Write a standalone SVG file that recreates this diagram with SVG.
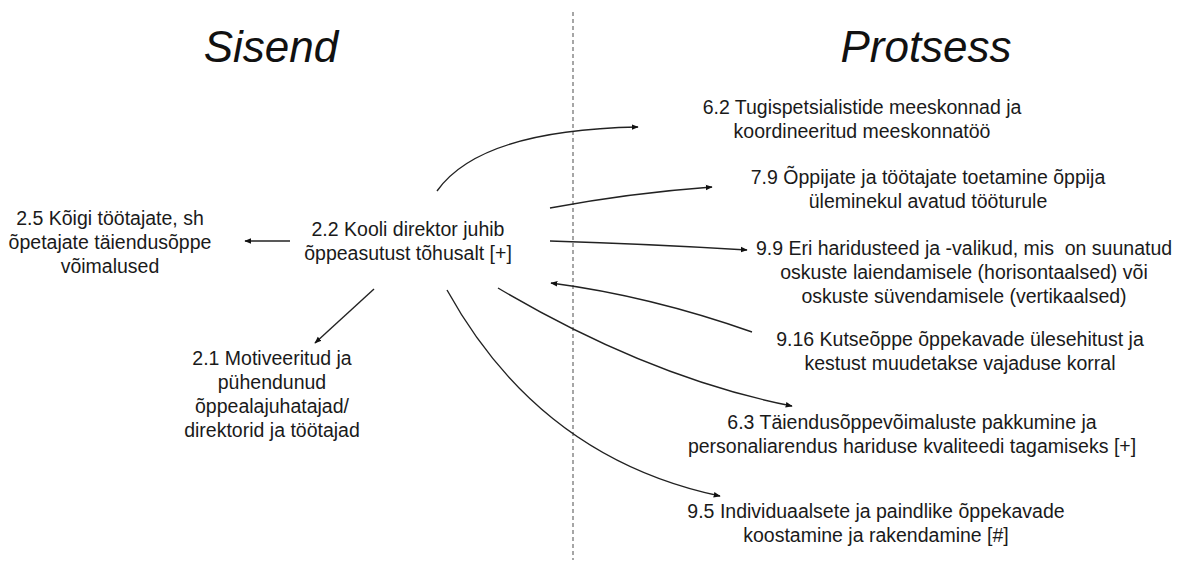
<svg xmlns="http://www.w3.org/2000/svg" width="1193" height="568" viewBox="0 0 1193 568">
  <style>
    .title { font-family: "Liberation Sans", Arial, sans-serif; font-style: italic; font-size: 44px; fill: #111; text-anchor: middle; }
    .lbl { font-family: "Liberation Sans", Arial, sans-serif; font-size: 19.5px; fill: #1a1a1a; text-anchor: middle; }
    .edge { fill: none; stroke: #222; stroke-width: 1.4; marker-end: url(#arrow); }
    .divider { stroke: #777; stroke-width: 1.3; stroke-dasharray: 4 3; }
  </style>
  <defs>
    <marker id="arrow" viewBox="0 0 10 10" refX="9" refY="5" markerWidth="5" markerHeight="5" orient="auto" markerUnits="strokeWidth">
      <path d="M0,1 L10,5 L0,9 z" fill="#111"/>
    </marker>
  </defs>
  <rect width="1193" height="568" fill="#fff"/>

  <!-- divider between the two columns -->
  <line class="divider" x1="573" y1="12" x2="573" y2="560"/>

  <g id="title-sisend"><text class="title" x="271" y="62">Sisend</text></g>
  <g id="title-protsess"><text class="title" x="926" y="62">Protsess</text></g>

  <g id="connectors">
    <path class="edge" d="M437,191 Q480,130 638,127"/>
    <path class="edge" d="M550,208 Q630,193 712,187"/>
    <path class="edge" d="M550,241 Q650,244 747,250"/>
    <path class="edge" d="M752,332 Q650,296 551,283"/>
    <path class="edge" d="M498,288 Q650,378 792,406"/>
    <path class="edge" d="M447,290 Q540,458 720,496"/>
    <path class="edge" d="M374,289 L315,343"/>
    <path class="edge" d="M290,241 L245,241"/>
  </g>

  <g id="n22"><text class="lbl"><tspan x="408" y="236">2.2 Kooli direktor juhib</tspan><tspan x="408" y="260">õppeasutust tõhusalt [+]</tspan></text></g>
  <g id="n25"><text class="lbl"><tspan x="110" y="225">2.5 Kõigi töötajate, sh</tspan><tspan x="110" y="249">õpetajate täiendusõppe</tspan><tspan x="110" y="273">võimalused</tspan></text></g>
  <g id="n21"><text class="lbl"><tspan x="272" y="365">2.1 Motiveeritud ja</tspan><tspan x="272" y="389">pühendunud</tspan><tspan x="272" y="413">õppealajuhatajad/</tspan><tspan x="272" y="437">direktorid ja töötajad</tspan></text></g>
  <g id="n62"><text class="lbl"><tspan x="862" y="114">6.2 Tugispetsialistide meeskonnad ja</tspan><tspan x="862" y="138">koordineeritud meeskonnatöö</tspan></text></g>
  <g id="n79"><text class="lbl"><tspan x="928" y="184">7.9 Õppijate ja töötajate toetamine õppija</tspan><tspan x="928" y="208">üleminekul avatud tööturule</tspan></text></g>
  <g id="n99"><text class="lbl" xml:space="preserve"><tspan x="964" y="255">9.9 Eri haridusteed ja -valikud, mis  on suunatud</tspan><tspan x="964" y="279">oskuste laiendamisele (horisontaalsed) või</tspan><tspan x="964" y="303">oskuste süvendamisele (vertikaalsed)</tspan></text></g>
  <g id="n916"><text class="lbl"><tspan x="960" y="346">9.16 Kutseõppe õppekavade ülesehitust ja</tspan><tspan x="960" y="370">kestust muudetakse vajaduse korral</tspan></text></g>
  <g id="n63"><text class="lbl"><tspan x="912" y="429">6.3 Täiendusõppevõimaluste pakkumine ja</tspan><tspan x="912" y="453">personaliarendus hariduse kvaliteedi tagamiseks [+]</tspan></text></g>
  <g id="n95"><text class="lbl"><tspan x="876" y="518">9.5 Individuaalsete ja paindlike õppekavade</tspan><tspan x="876" y="542">koostamine ja rakendamine [#]</tspan></text></g>
</svg>
